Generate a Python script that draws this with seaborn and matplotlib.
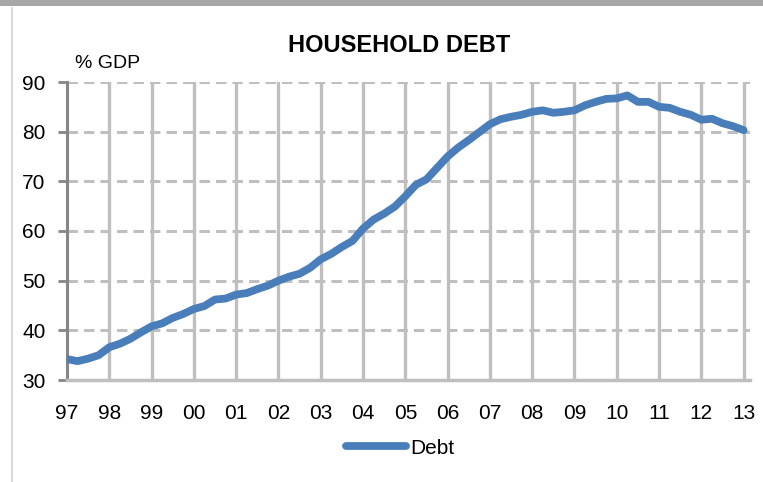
import matplotlib
matplotlib.use("Agg")
import matplotlib.pyplot as plt
import seaborn as sns
import pandas as pd
import numpy as np

# Квартальные данные 1997Q1 - 2013Q1, % ВВП
debt = [34.2, 33.8, 34.3, 35.0, 36.6, 37.3, 38.3, 39.6,
        40.8, 41.4, 42.5, 43.3, 44.3, 44.9, 46.2, 46.4,
        47.2, 47.5, 48.3, 49.0, 50.0, 50.8, 51.4, 52.6,
        54.3, 55.4, 56.8, 58.0, 60.5, 62.3, 63.5, 64.9,
        67.0, 69.3, 70.4, 72.7, 75.0, 76.8, 78.3, 79.9,
        81.5, 82.5, 83.0, 83.4, 84.0, 84.3, 83.8, 84.0,
        84.3, 85.3, 86.0, 86.6, 86.7, 87.3, 86.0, 86.0,
        85.0, 84.8, 84.0, 83.4, 82.4, 82.6, 81.7, 81.1,
        80.3]
start_year = 1997
year_labels = ["97", "98", "99", "00", "01", "02", "03", "04", "05",
               "06", "07", "08", "09", "10", "11", "12", "13"]
y_ticks = [30, 40, 50, 60, 70, 80, 90]

df = pd.DataFrame({"period": start_year + np.arange(len(debt)) / 4, "Debt": debt})

sns.set_style("white")
plt.rcParams["font.family"] = ["Liberation Sans", "DejaVu Sans"]
plt.rcParams["text.color"] = "black"
plt.rcParams["xtick.color"] = "black"
plt.rcParams["ytick.color"] = "black"

fig = plt.figure(figsize=(7.63, 4.82), dpi=100)
ax = fig.add_axes([67 / 763, 1 - 380 / 482, 683 / 763, 298 / 482])

grid_col = "#bfbfbf"
year_pos = [start_year + i for i in range(len(year_labels))]

# сетка
for yv in y_ticks[1:]:
    ax.axhline(yv, color=grid_col, lw=2.2, ls=(0, (3.4, 2.0)), zorder=1)
for xv in year_pos[1:]:
    ax.axvline(xv, color=grid_col, lw=2.4, zorder=1)

sns.lineplot(data=df, x="period", y="Debt", ax=ax, color="#4a7ebb", lw=5.6,
             solid_capstyle="round", label="Debt", zorder=3)

ax.set_xlim(start_year, start_year + 16.15)
ax.set_ylim(30, 90)
ax.set_yticks(y_ticks)
ax.set_yticklabels([str(v) for v in y_ticks], fontsize=15)
ax.set_xticks(year_pos)
ax.set_xticklabels(year_labels, fontsize=15)
ax.tick_params(axis="x", length=0, pad=17)
ax.tick_params(axis="y", length=6.5, width=2, color="#868686", pad=9, direction="out", left=True)
ax.set_xlabel("")
ax.set_ylabel("")

for s in ["top", "right"]:
    ax.spines[s].set_visible(False)
ax.spines["left"].set_color("#868686")
ax.spines["left"].set_linewidth(2.2)
ax.spines["bottom"].set_color(grid_col)
ax.spines["bottom"].set_linewidth(2.5)

fig.text(399 / 763, 1 - 45 / 482, "HOUSEHOLD DEBT", ha="center", va="center",
         fontsize=17, fontweight="bold")
fig.text(75 / 763, 1 - 63 / 482, "% GDP", ha="left", va="center", fontsize=14)

leg = ax.legend(loc="center", bbox_to_anchor=((400 - 67) / 683, -68 / 298), frameon=False,
                fontsize=15, handlelength=2.9, handletextpad=0.2)

# рамка диаграммы
fig.add_artist(plt.Line2D([12 / 763, 12 / 763], [0, 1 - 8 / 482], transform=fig.transFigure,
                          color="#d9d9d9", lw=1.5))
fig.add_artist(plt.Rectangle((0, 1 - 6 / 482), 1, 6 / 482, transform=fig.transFigure,
                             color="#a6a6a6", lw=0))

fig.savefig("out.png", dpi=100)
